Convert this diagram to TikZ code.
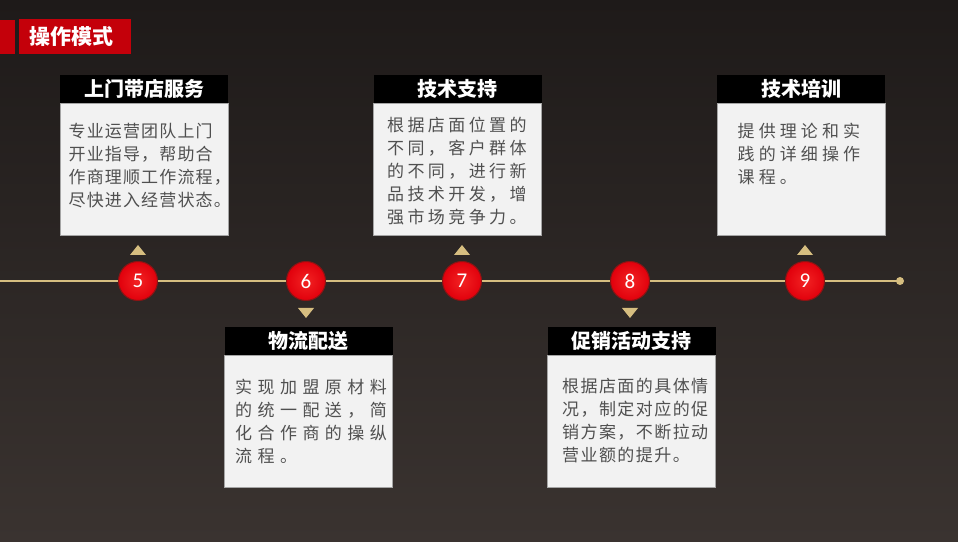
\documentclass[tikz,border=0pt]{standalone}
\usepackage{fontspec}
\setmainfont{Noto Sans CJK SC}
\newfontfamily\numfont{Carlito}
\usepackage{xcolor}
\definecolor{stonedark}{RGB}{30, 26, 25}
\definecolor{stonelight}{RGB}{58, 51, 48}
\definecolor{titlered}{RGB}{196, 0, 10}
\definecolor{goldline}{RGB}{214, 190, 128}
\definecolor{cardgray}{RGB}{242, 242, 242}
\definecolor{cardedge}{RGB}{165, 165, 165}
\definecolor{wordgray}{RGB}{80, 80, 80}
\definecolor{ballred}{RGB}{225, 0, 12}
\definecolor{balllight}{RGB}{242, 35, 35}
\definecolor{ballrim}{RGB}{140, 20, 20}
\usetikzlibrary{positioning, calc}

\tikzset{
  headbox/.style={fill=black, text=white, minimum width=168pt, minimum height=28pt,
                  inner sep=0pt, font=\fontsize{20}{24}\selectfont\bfseries},
  cardbox/.style={fill=cardgray, draw=cardedge, line width=1pt, minimum width=168pt,
                  minimum height=132pt, inner sep=0pt},
  cardwords/.style={anchor=north west, inner sep=0pt, text width=162pt, align=left, text=wordgray,
                    font=\fontsize{17}{23}\selectfont\addfontfeatures{LetterSpace=#1}},
  stepball/.style={circle, minimum size=39pt, inner sep=0pt, draw=ballrim, line width=1pt,
                   inner color=balllight, outer color=ballred, text=white,
                   font=\numfont\fontsize{21}{21}\selectfont},
}

\begin{document}
\begin{tikzpicture}[x=1pt, y=1pt]
  \shade[top color=stonedark, bottom color=stonelight] (0,0) rectangle (958,541);
  \useasboundingbox (0,0) rectangle (958,541);

  \fill[titlered] (0,487) rectangle (15,521);
  \node[fill=titlered, text=white, minimum width=112pt, minimum height=35pt, inner sep=0pt,
        font=\fontsize{21}{25}\selectfont\bfseries] (title) at (75,504) {\hspace*{-8pt}操作模式};

  \coordinate (lineL) at (0,260);
  \coordinate (lineR) at (900,260);
  \draw[goldline, line width=2.2pt] (lineL) -- (lineR);
  \fill[goldline] (lineR) circle (4pt);

  \node[stepball] (n5) at (138,260) {5};
  \node[stepball] (n6) at (306,260) {6};
  \node[stepball] (n7) at (462,260) {7};
  \node[stepball] (n8) at (630,260) {8};
  \node[stepball] (n9) at (805,260) {9};

  \fill[goldline] ($(n5.center)+(-8,26)$) -- ++(16,0) -- ++(-8,10) -- cycle;
  \fill[goldline] ($(n7.center)+(-8,26)$) -- ++(16,0) -- ++(-8,10) -- cycle;
  \fill[goldline] ($(n9.center)+(-8,26)$) -- ++(16,0) -- ++(-8,10) -- cycle;
  \fill[goldline] ($(n6.center)+(-8,-27)$) -- ++(16,0) -- ++(-8,-10) -- cycle;
  \fill[goldline] ($(n8.center)+(-8,-27)$) -- ++(16,0) -- ++(-8,-10) -- cycle;

  \node[headbox] (h5) at (144,452) {上门带店服务};
  \node[cardbox, below=0pt of h5] (b5) {};
  \node[cardwords=6.7] (t5) at ($(b5.north west)+(9,-20)$)
    {专业运营团队上门\\开业指导，帮助合\\作商理顺工作流程，\\尽快进入经营状态。};

  \node[headbox] (h6) at (308.5,200) {物流配送};
  \node[cardbox, below=0pt of h6] (b6) {};
  \node[cardwords=32] (t6) at ($(b6.north west)+(11,-24)$)
    {实现加盟原材料\\的统一配送，简\\化合作商的操纵\\流程。};

  \node[headbox] (h7) at (457.5,452) {技术支持};
  \node[cardbox, below=0pt of h7] (b7) {};
  \node[cardwords=20] (t7) at ($(b7.north west)+(14,-14)$)
    {根据店面位置的\\不同，客户群体\\的不同，进行新\\品技术开发，增\\强市场竞争力。};

  \node[headbox] (h8) at (631.5,200) {促销活动支持};
  \node[cardbox, below=0pt of h8] (b8) {};
  \node[cardwords=8.4] (t8) at ($(b8.north west)+(15,-23)$)
    {根据店面的具体情\\况，制定对应的促\\销方案，不断拉动\\营业额的提升。};

  \node[headbox] (h9) at (801,452) {技术培训};
  \node[cardbox, below=0pt of h9] (b9) {};
  \node[cardwords=24] (t9) at ($(b9.north west)+(21,-20)$)
    {提供理论和实\\践的详细操作\\课程。};
\end{tikzpicture}
\end{document}
